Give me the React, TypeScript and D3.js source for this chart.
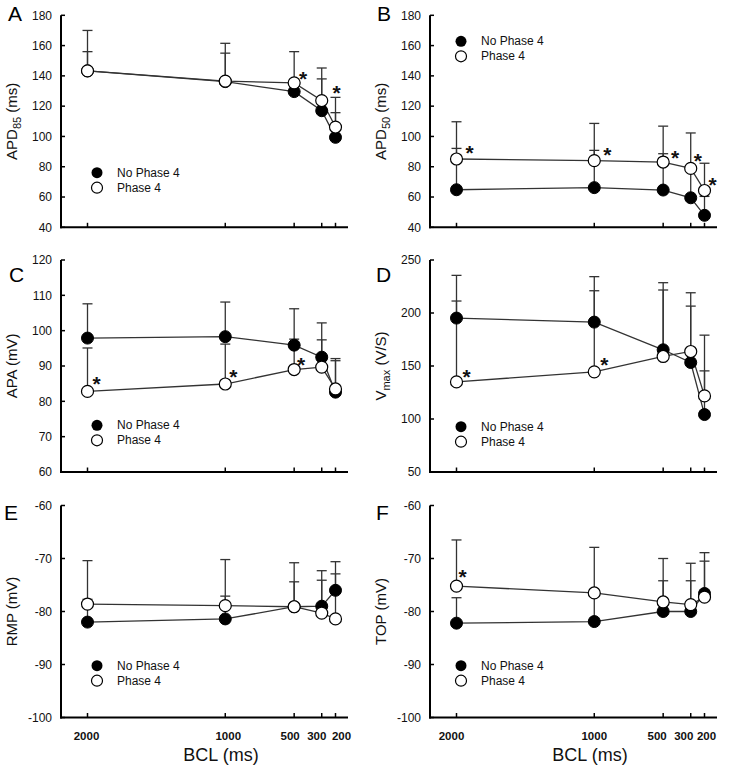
import React from "react";
import * as d3 from "d3";

// basic cycle lengths (ms), plotted reversed on a linear axis
const bcl = [2000, 1000, 500, 300, 200];
const bclTicks = ["2000", "1000", "500", "300", "200"];
// small horizontal nudges of the crowded tick labels, per column
const tickNudge = [
  [-1, 3, -4, -5, 6],
  [-5, 0, -6, -7, 2],
];

// A: APD85 (ms)
const apd85NoP4 = [143.3, 136.2, 129.6, 117.0, 99.4];
const apd85NoP4Err = [12.7, 18.8, 5.8, 21.0, 16.3];
const apd85P4 = [143.3, 136.5, 135.4, 123.7, 106.2];
const apd85P4Err = [26.7, 25.0, 20.6, 21.5, 19.6];
const apd85Stars = [[500, 140.6, 9], [200, 131.2, 1]];

// B: APD50 (ms)
const apd50NoP4 = [64.8, 66.2, 64.6, 59.5, 47.9];
const apd50NoP4Err = [27.3, 24.6, 24.0, 19.2, 12.5];
const apd50P4 = [85.1, 84.0, 83.1, 78.9, 64.3];
const apd50P4Err = [24.6, 24.6, 23.7, 23.4, 18.0];
const apd50Stars = [[2000, 91.9, 13], [1000, 90.5, 13], [500, 88.6, 12], [300, 86.6, 7], [200, 70.8, 8]];

// C: APA (mV)
const apaNoP4 = [97.9, 98.3, 95.9, 92.5, 82.6];
const apaNoP4Err = [9.7, 9.8, 10.3, 9.7, 9.5];
const apaP4 = [82.8, 84.9, 89.0, 89.7, 83.5];
const apaP4Err = [12.3, 11.3, 8.6, 7.7, 8.0];
const apaStars = [[2000, 85.9, 9], [1000, 88.0, 8], [500, 91.4, 7]];

// D: Vmax (V/S)
const vmaxNoP4 = [195.2, 191.4, 165.3, 153.3, 104.2];
const vmaxNoP4Err = [16.1, 29.6, 56.4, 53.2, 41.2];
const vmaxP4 = [135.0, 144.5, 159.0, 163.7, 121.8];
const vmaxP4Err = [100.5, 89.8, 69.6, 55.4, 57.3];
const vmaxStars = [[2000, 143.5, 10], [1000, 154.6, 10]];

// E: RMP (mV)
const rmpNoP4 = [-82.0, -81.4, -79.1, -79.0, -76.0];
const rmpNoP4Err = [4.3, 4.3, 4.7, 4.9, 3.1];
const rmpP4 = [-78.6, -78.9, -79.1, -80.3, -81.4];
const rmpP4Err = [8.2, 8.7, 8.3, 8.0, 10.8];
const rmpStars: number[][] = [];

// F: TOP (mV)
const topNoP4 = [-82.2, -81.9, -80.0, -80.0, -76.6];
const topNoP4Err = [4.8, 5.4, 5.8, 5.8, 6.1];
const topP4 = [-75.2, -76.5, -78.2, -78.7, -77.3];
const topP4Err = [8.7, 8.6, 8.2, 7.8, 8.4];
const topStars = [[2000, -72.7, 6]];

const font = "Arial, 'Liberation Sans', Helvetica, sans-serif";
const tops = [15.3, 260, 505.5];
const plotH = 212;

const sub = (main: string, s: string, rest: string) => (
  <>
    {main}
    <tspan dy={4} fontSize={11}>{s}</tspan>
    <tspan dy={-4}>{rest}</tspan>
  </>
);

const panels = [
  { letter: "A", col: 0, row: 0, dom: [40, 180], step: 20, title: sub("APD", "85", " (ms)"), no: apd85NoP4, noE: apd85NoP4Err, p: apd85P4, pE: apd85P4Err, stars: apd85Stars, leg: 157.4, lx: 8, ly: 21 },
  { letter: "B", col: 1, row: 0, dom: [40, 180], step: 20, title: sub("APD", "50", " (ms)"), no: apd50NoP4, noE: apd50NoP4Err, p: apd50P4, pE: apd50P4Err, stars: apd50Stars, leg: 26, lx: 377, ly: 21 },
  { letter: "C", col: 0, row: 1, dom: [60, 120], step: 10, title: <>APA (mV)</>, no: apaNoP4, noE: apaNoP4Err, p: apaP4, pE: apaP4Err, stars: apaStars, leg: 165.3, lx: 9, ly: 282 },
  { letter: "D", col: 1, row: 1, dom: [50, 250], step: 50, title: sub("V", "max", " (V/S)"), no: vmaxNoP4, noE: vmaxNoP4Err, p: vmaxP4, pE: vmaxP4Err, stars: vmaxStars, leg: 166.7, lx: 376, ly: 282 },
  { letter: "E", col: 0, row: 2, dom: [-100, -60], step: 10, title: <>RMP (mV)</>, no: rmpNoP4, noE: rmpNoP4Err, p: rmpP4, pE: rmpP4Err, stars: rmpStars, leg: 160.2, lx: 4, ly: 520 },
  { letter: "F", col: 1, row: 2, dom: [-100, -60], step: 10, title: <>TOP (mV)</>, no: topNoP4, noE: topNoP4Err, p: topP4, pE: topP4Err, stars: topStars, leg: 160.2, lx: 376, ly: 520 },
];

const Panel = ({ cfg }: { cfg: (typeof panels)[number] }) => {
  const ox = cfg.col === 0 ? 61 : 430;
  const top = tops[cfg.row];
  const bottom = top + plotH;
  const x = d3.scaleLinear().domain([2000, 200]).range([ox + 26.5, ox + 274.5]);
  const y = d3.scaleLinear().domain(cfg.dom).range([bottom, top]);
  const yTicks = d3.range(cfg.dom[0], cfg.dom[1] + 0.01, cfg.step);
  const line = d3
    .line<number>()
    .x((_, i) => x(bcl[i]))
    .y((v) => y(v));
  const legX = ox + (cfg.col === 0 ? 36 : 31);
  const legY = top + cfg.leg;

  const errBars = (vals: number[], errs: number[]) =>
    vals.map((v, i) => {
      const cx = x(bcl[i]);
      const y1 = y(v + errs[i]);
      return (
        <g key={i} stroke="#333" strokeWidth={1.3}>
          <line x1={cx} x2={cx} y1={y(v)} y2={y1} />
          <line x1={cx - 5} x2={cx + 5} y1={y1} y2={y1} />
        </g>
      );
    });

  return (
    <g fontFamily={font}>
      <text x={cfg.lx} y={cfg.ly} fontSize={21}>{cfg.letter}</text>
      <text
        transform={`translate(${ox - 44},${(top + bottom) / 2}) rotate(-90)`}
        textAnchor="middle"
        fontSize={15}
        fill="#111"
      >
        {cfg.title}
      </text>
      {yTicks.map((t) => (
        <g key={t}>
          <line x1={ox} x2={ox + 4} y1={y(t)} y2={y(t)} stroke="#000" strokeWidth={1.5} />
          <text x={ox - 9} y={y(t)} dy="0.36em" textAnchor="end" fontSize={12} fill="#111">
            {t}
          </text>
        </g>
      ))}
      {bcl.map((b, i) => (
        <g key={b}>
          <line x1={x(b)} x2={x(b)} y1={bottom} y2={bottom - 4.5} stroke="#000" strokeWidth={1.5} />
          {cfg.row === 2 && (
            <text
              x={x(b) + tickNudge[cfg.col][i]}
              y={740}
              textAnchor="middle"
              fontSize={11.5}
              fontWeight="bold"
              fill="#111"
            >
              {bclTicks[i]}
            </text>
          )}
        </g>
      ))}
      {cfg.row === 2 && (
        <text x={ox + 160} y={761} textAnchor="middle" fontSize={18} fill="#111">
          BCL (ms)
        </text>
      )}
      <line x1={ox} x2={ox} y1={top} y2={bottom + 1} stroke="#000" strokeWidth={2} />
      <line x1={ox - 1} x2={ox + 287} y1={bottom} y2={bottom} stroke="#000" strokeWidth={2} />

      <path d={line(cfg.no) || ""} fill="none" stroke="#333" strokeWidth={1.3} />
      <path d={line(cfg.p) || ""} fill="none" stroke="#333" strokeWidth={1.3} />
      {errBars(cfg.no, cfg.noE)}
      {errBars(cfg.p, cfg.pE)}
      {cfg.no.map((v, i) => (
        <circle key={"n" + i} cx={x(bcl[i])} cy={y(v)} r={6} fill="#000" stroke="#000" strokeWidth={1} />
      ))}
      {cfg.p.map((v, i) => (
        <circle key={"p" + i} cx={x(bcl[i])} cy={y(v)} r={6} fill="#fff" stroke="#000" strokeWidth={1.2} />
      ))}
      {cfg.stars.map(([b, v, dx], i) => (
        <text key={"s" + i} x={x(b) + dx} y={y(v) + 11} textAnchor="middle" fontSize={21} fontWeight="bold" fill="#111">
          *
        </text>
      ))}

      <circle cx={legX} cy={legY} r={5.5} fill="#000" />
      <circle cx={legX} cy={legY + 15} r={5.5} fill="#fff" stroke="#000" strokeWidth={1.2} />
      <text x={legX + 20} y={legY + 4} fontSize={12} fill="#111">No Phase 4</text>
      <text x={legX + 20} y={legY + 19} fontSize={12} fill="#111">Phase 4</text>
    </g>
  );
};

const App = () => (
  <svg
    width={729}
    height={776}
    style={{ position: "absolute", left: 0, top: 0, background: "#fff" }}
  >
    <rect width={729} height={776} fill="#fff" />
    {panels.map((p) => (
      <Panel key={p.letter} cfg={p} />
    ))}
  </svg>
);

export default App;
